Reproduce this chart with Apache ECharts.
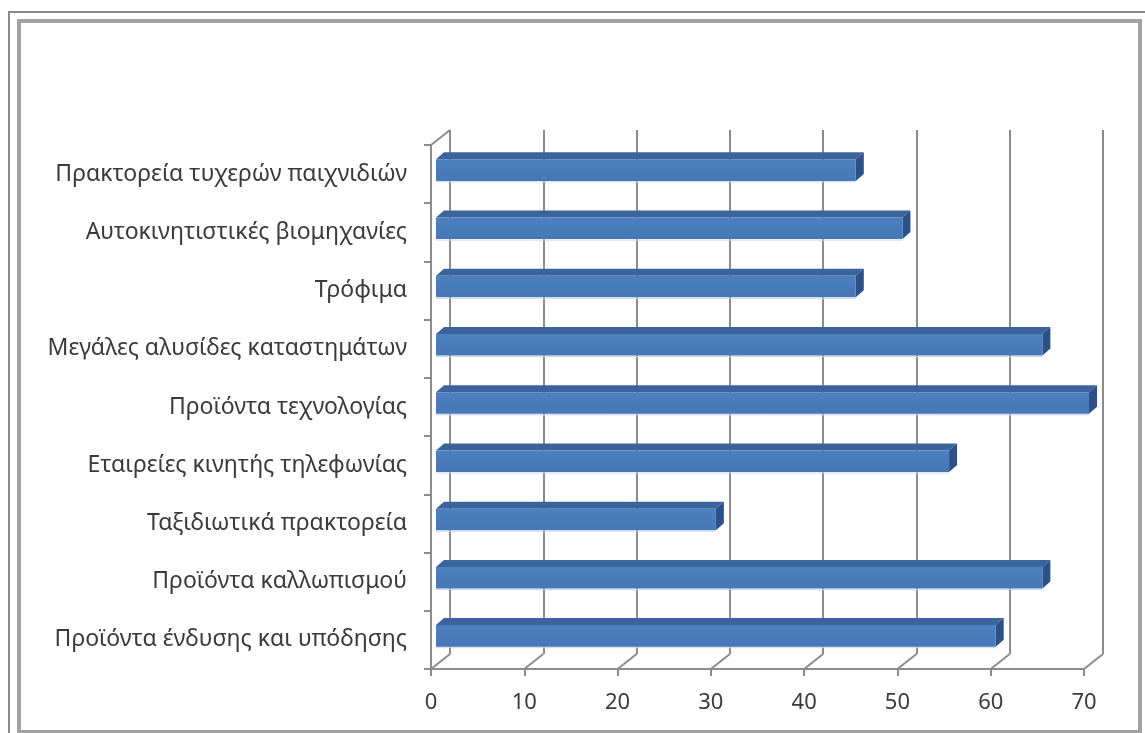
<!DOCTYPE html>
<html>
<head>
<meta charset="utf-8">
<script src="https://cdn.jsdelivr.net/npm/echarts@6/dist/echarts.min.js"></script>
<style>
  html, body { margin: 0; padding: 0; background: #ffffff; }
  #chart { width: 1145px; height: 733px; }
</style>
</head>
<body>
<div id="chart"></div>
<script>
// Categories listed top to bottom
const categories = [
  'Πρακτορεία τυχερών παιχνιδιών',
  'Αυτοκινητιστικές βιομηχανίες',
  'Τρόφιμα',
  'Μεγάλες αλυσίδες καταστημάτων',
  'Προϊόντα τεχνολογίας',
  'Εταιρείες κινητής τηλεφωνίας',
  'Ταξιδιωτικά πρακτορεία',
  'Προϊόντα καλλωπισμού',
  'Προϊόντα ένδυσης και υπόδησης'
];
const values = [45, 50, 45, 65, 70, 55, 30, 65, 60];
const xTicks = [0, 10, 20, 30, 40, 50, 60, 70];

const FONT = '"Noto Sans", "DejaVu Sans", sans-serif';
const TEXT = '#3a3a3a';
const GRID_GRAY = '#8c8c8c';
// depth of the 3D box (back wall offset from front plane)
const DEPTH = { dx: 19, dy: -15 };
// bar slab: front plane offset and thickness
const BAR_FRONT = { dx: 5, dy: -4 };
const BAR_SLAB = { dx: 8, dy: -7 };

const chart = echarts.init(document.getElementById('chart'));

function floorY(api) {
  const last = api.coord([0, categories.length - 1]);
  return last[1] + api.size([0, 1])[1] / 2;
}

function renderFloor(params, api) {
  const t = api.value(0);
  const yF = floorY(api);
  const x = api.coord([t, 0])[0];
  const children = [{
    type: 'line',
    shape: { x1: x, y1: yF, x2: x + DEPTH.dx, y2: yF + DEPTH.dy },
    style: { stroke: GRID_GRAY, lineWidth: 2 }
  }];
  if (params.dataIndex === 0) {
    const yT = api.coord([0, 0])[1] - api.size([0, 1])[1] / 2;
    children.push({
      type: 'line',
      shape: { x1: x, y1: yT, x2: x + DEPTH.dx, y2: yT + DEPTH.dy },
      style: { stroke: GRID_GRAY, lineWidth: 2 }
    });
  }
  return { type: 'group', children: children };
}

function renderBar(params, api) {
  const idx = api.value(1);
  const p0 = api.coord([0, idx]);
  const p1 = api.coord([api.value(0), idx]);
  const h = api.size([0, 1])[1] * 0.37;
  const x0 = p0[0] + BAR_FRONT.dx;
  const x1 = p1[0] + BAR_FRONT.dx;
  const yc = p0[1] + BAR_FRONT.dy;
  const top = yc - h / 2;
  const bot = yc + h / 2;
  const sx = BAR_SLAB.dx, sy = BAR_SLAB.dy;
  return {
    type: 'group',
    children: [
      {
        type: 'polygon',
        shape: { points: [[x0, top], [x1, top], [x1 + sx, top + sy], [x0 + sx, top + sy]] },
        style: { fill: '#3c649c' }
      },
      {
        type: 'polygon',
        shape: { points: [[x1, top], [x1 + sx, top + sy], [x1 + sx, bot + sy], [x1, bot]] },
        style: { fill: '#2d5187' }
      },
      {
        type: 'rect',
        shape: { x: x0, y: top, width: x1 - x0, height: h },
        style: {
          fill: new echarts.graphic.LinearGradient(0, 0, 0, 1, [
            { offset: 0, color: '#4d80c0' },
            { offset: 1, color: '#4677b6' }
          ])
        }
      },
      {
        type: 'line',
        shape: { x1: x0, y1: bot + 1, x2: x1, y2: bot + 1 },
        style: { stroke: '#c8d8ee', lineWidth: 1 }
      }
    ]
  };
}

const option = {
  backgroundColor: '#ffffff',
  animation: false,
  graphic: [
    {
      type: 'rect', silent: true,
      shape: { x: 9, y: 12, width: 1200, height: 800 },
      style: { fill: 'none', stroke: '#8a8a8a', lineWidth: 2 }
    },
    {
      type: 'rect', silent: true,
      shape: { x: 19, y: 21, width: 1121, height: 711 },
      style: { fill: 'none', stroke: '#a2a2a2', lineWidth: 4 }
    }
  ],
  grid: [
    { left: 431, top: 145, width: 653, height: 524 },
    { left: 431 + DEPTH.dx, top: 145 + DEPTH.dy, width: 653, height: 524 }
  ],
  xAxis: [
    {
      type: 'value', gridIndex: 0, min: 0, max: 70, interval: 10,
      axisLine: { show: true, lineStyle: { color: GRID_GRAY, width: 2 } },
      axisTick: { show: true, length: 7, lineStyle: { color: GRID_GRAY, width: 2 } },
      splitLine: { show: false },
      axisLabel: {
        color: TEXT, fontSize: 22, fontFamily: FONT, margin: 23,
        formatter: function (v) { return xTicks.indexOf(v) >= 0 ? String(v) : ''; }
      }
    },
    {
      type: 'value', gridIndex: 1, min: 0, max: 70, interval: 10,
      axisLine: { show: false }, axisTick: { show: false }, axisLabel: { show: false },
      splitLine: { show: true, lineStyle: { color: GRID_GRAY, width: 2 } }
    }
  ],
  yAxis: [
    {
      type: 'category', gridIndex: 0, data: categories, inverse: true,
      axisLine: { show: true, lineStyle: { color: GRID_GRAY, width: 2 } },
      axisTick: { show: true, length: 7, lineStyle: { color: GRID_GRAY, width: 2 } },
      axisLabel: { color: TEXT, fontSize: 23, fontFamily: FONT, margin: 24 }
    },
    {
      type: 'category', gridIndex: 1, data: categories, inverse: true, show: false
    }
  ],
  series: [
    {
      type: 'custom', xAxisIndex: 0, yAxisIndex: 0, z: 1,
      renderItem: renderFloor,
      data: xTicks.map(function (t) { return [t]; }),
      encode: { x: 0 }, silent: true
    },
    {
      type: 'custom', xAxisIndex: 0, yAxisIndex: 0, z: 5,
      renderItem: renderBar,
      data: values.map(function (v, i) { return [v, i]; }),
      encode: { x: 0, y: 1 }
    }
  ]
};

chart.setOption(option);
</script>
</body>
</html>
